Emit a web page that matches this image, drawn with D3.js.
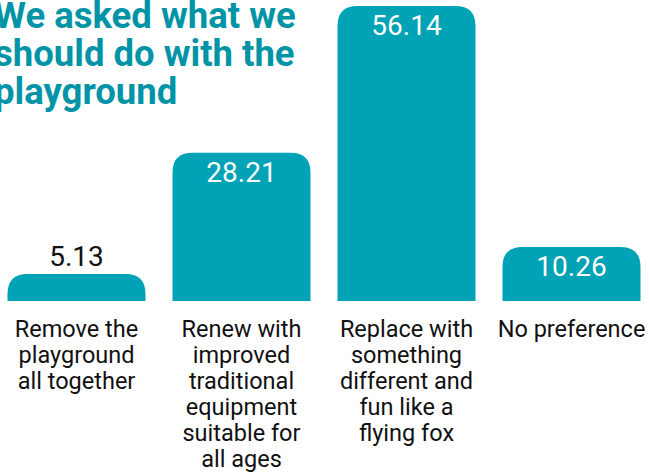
<!DOCTYPE html>
<html>
<head>
<meta charset="utf-8">
<script src="https://cdn.jsdelivr.net/npm/d3@7"></script>
<style>
  html, body { margin: 0; padding: 0; background: #fff; }
  svg { display: block; font-family: Roboto, "Noto Sans", sans-serif; }
</style>
</head>
<body>
<div id="chart"></div>
<script>
// data
const categories = [
    "Remove the\nplayground\nall together",
    "Renew with\nimproved\ntraditional\nequipment\nsuitable for\nall ages",
    "Replace with\nsomething\ndifferent and\nfun like a\nflying fox",
    "No preference"
];
const values = [5.13, 28.21, 56.14, 10.26];
const titleLines = ["We asked what we", "should do with the", "playground"];

const width = 649, height = 472;
const barColor = "#00a2b6";
const titleColor = "#0094a6";
const baseline = 301;
const radius = 20;

const svg = d3.select("#chart")
    .append("svg")
    .attr("width", width)
    .attr("height", height)
    .attr("viewBox", [0, 0, width, height]);

const x = d3.scaleBand()
    .domain(categories)
    .range([-6, 654])
    .paddingInner(27 / 165)
    .paddingOuter(13.5 / 165);

const y = d3.scaleLinear()
    .domain([0, d3.max(values)])
    .range([baseline, 6]);

const data = categories.map((c, i) => ({ cat: c, value: values[i] }));

// bar with rounded top corners only
function barPath(d) {
    const x0 = x(d.cat), x1 = x0 + x.bandwidth();
    const y0 = y(d.value), y1 = y(0);
    const r = Math.min(radius, (y1 - y0), x.bandwidth() / 2);
    return `M${x0},${y1}V${y0 + r}Q${x0},${y0} ${x0 + r},${y0}` +
        `H${x1 - r}Q${x1},${y0} ${x1},${y0 + r}V${y1}Z`;
}

svg.append("g")
    .selectAll("path")
    .data(data)
    .join("path")
    .attr("fill", barColor)
    .attr("d", barPath);

// value labels: inside in white if the bar is tall enough, else above in black
svg.append("g")
    .attr("font-size", 28)
    .attr("text-anchor", "middle")
    .selectAll("text")
    .data(data)
    .join("text")
    .attr("x", d => x(d.cat) + x.bandwidth() / 2)
    .attr("y", d => (y(0) - y(d.value)) > 40 ? y(d.value) + 29 : y(d.value) - 8)
    .attr("fill", d => (y(0) - y(d.value)) > 40 ? "#fff" : "#111")
    .text(d => d.value.toFixed(2));

// category labels under the bars
const xAxis = svg.append("g")
    .attr("font-size", 23.5)
    .attr("fill", "#111")
    .attr("text-anchor", "middle");

xAxis.selectAll("text")
    .data(categories)
    .join("text")
    .attr("x", d => x(d) + x.bandwidth() / 2)
    .attr("y", 337)
    .selectAll("tspan")
    .data(d => d.split("\n"))
    .join("tspan")
    .attr("x", function () { return d3.select(this.parentNode).attr("x"); })
    .attr("dy", (d, i) => i === 0 ? 0 : 26)
    .text(d => d);

// title
svg.append("text")
    .attr("x", -6)
    .attr("y", 28)
    .attr("font-size", 36.5)
    .attr("font-weight", "bold")
    .attr("fill", titleColor)
    .selectAll("tspan")
    .data(titleLines)
    .join("tspan")
    .attr("x", -6)
    .attr("dy", (d, i) => i === 0 ? 0 : 38)
    .text(d => d);
</script>
</body>
</html>
